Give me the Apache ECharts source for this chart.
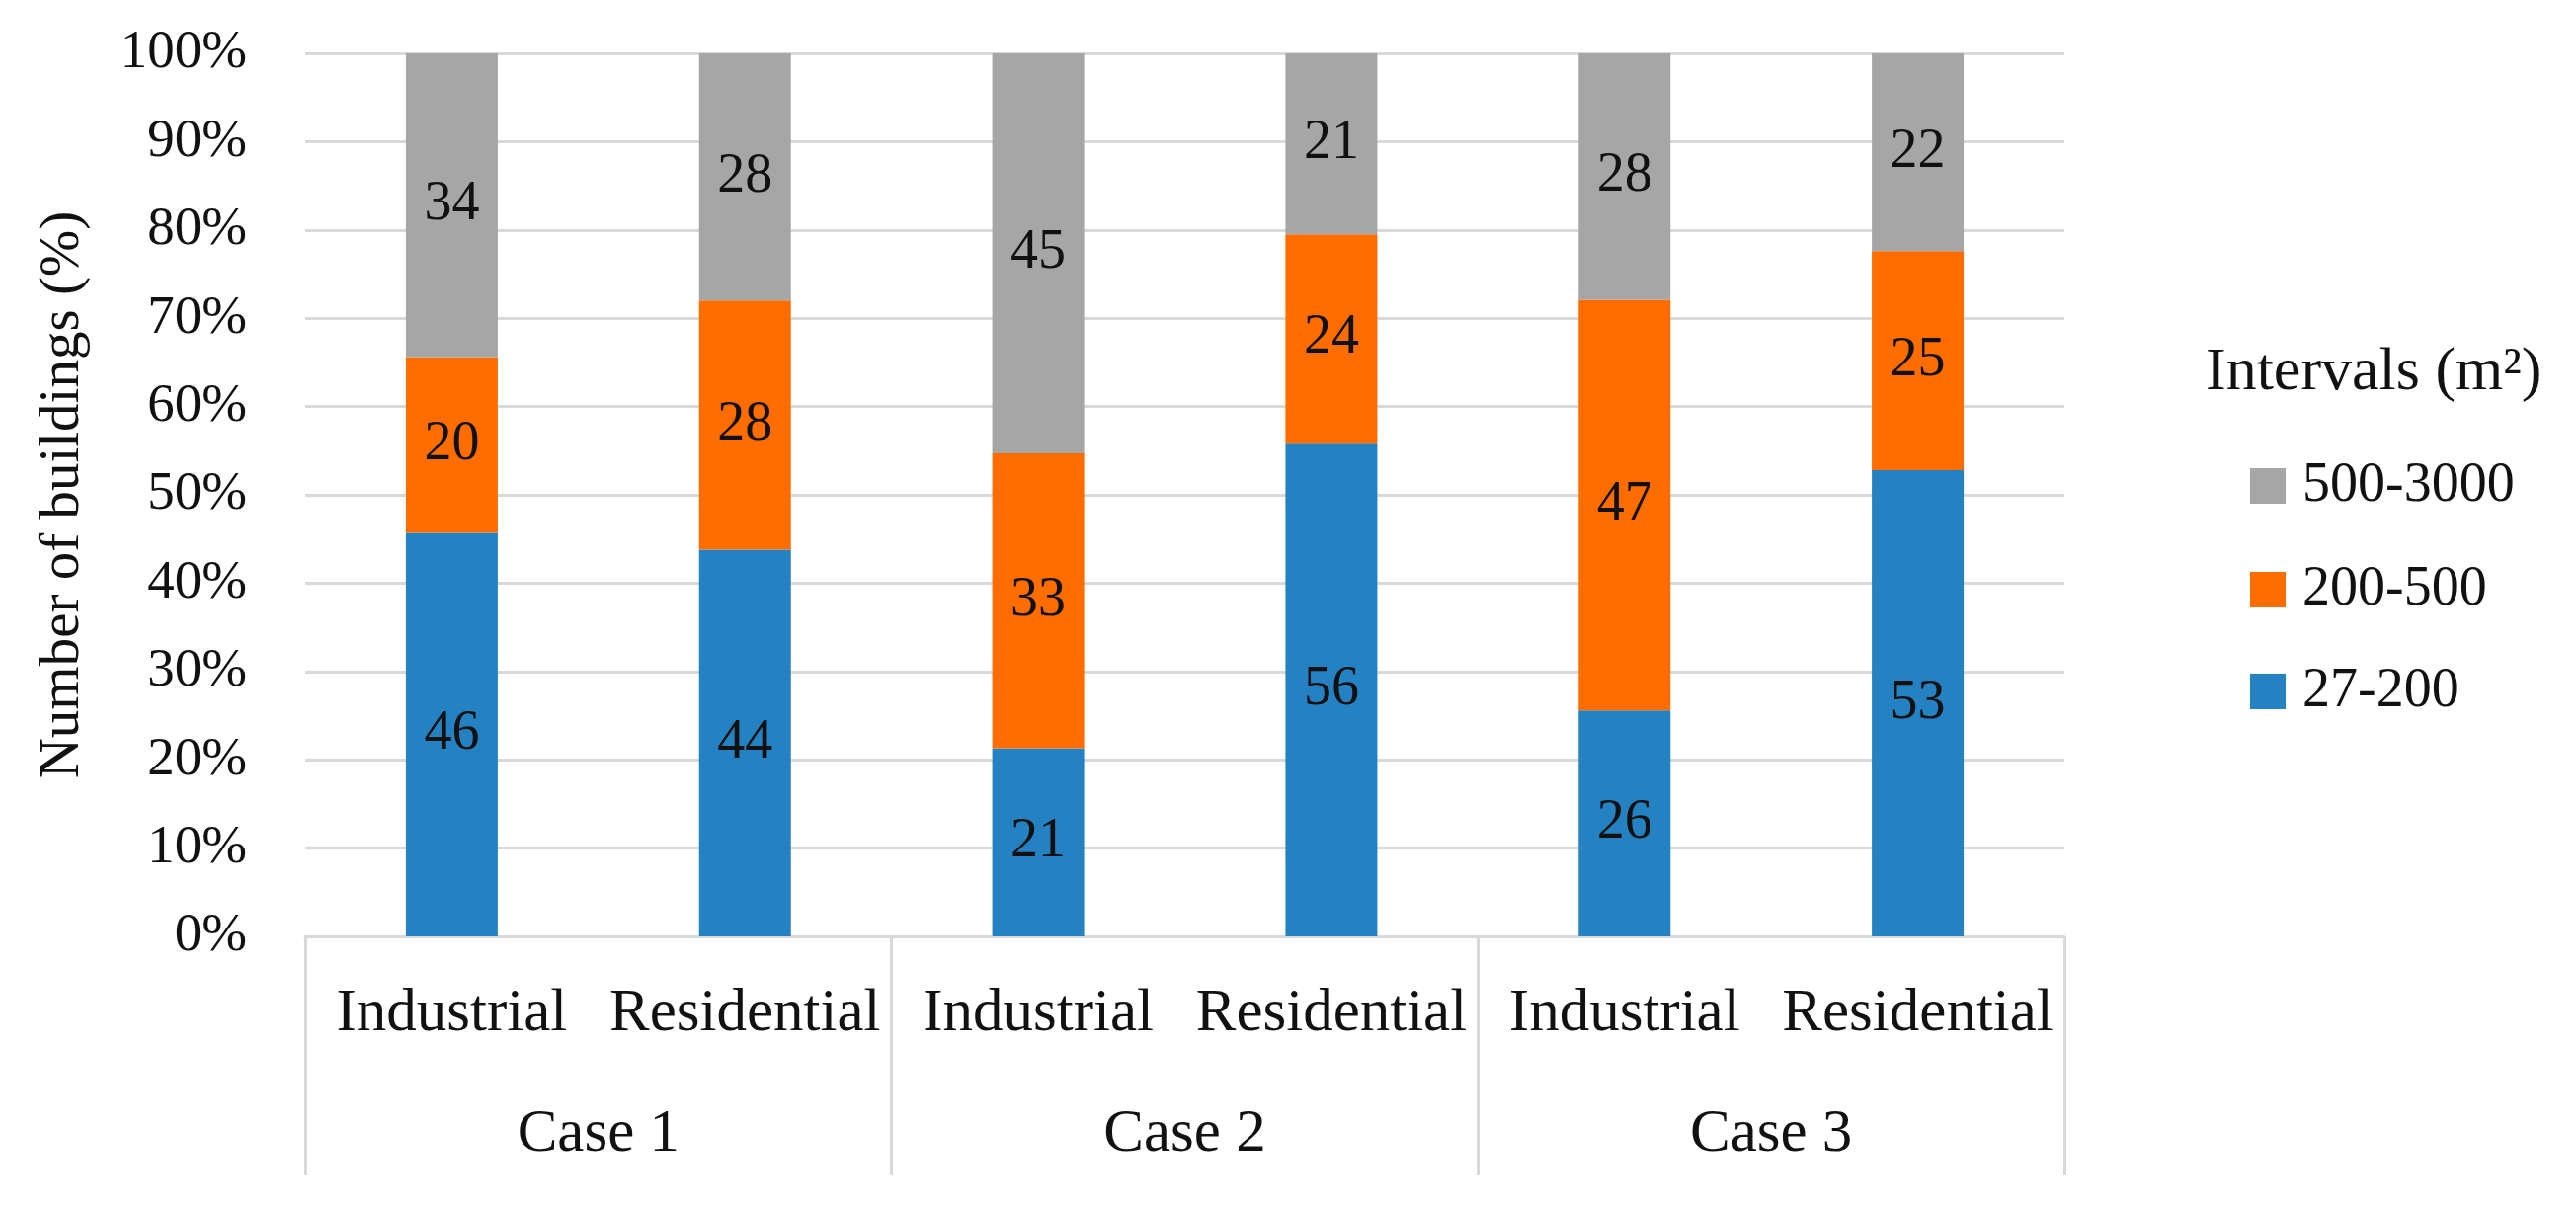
<!DOCTYPE html>
<html>
<head>
<meta charset="utf-8">
<script src="https://cdn.jsdelivr.net/npm/echarts@6/dist/echarts.min.js"></script>
<style>
html,body{margin:0;padding:0;background:#fff;}
#chart{width:2608px;height:1226px;}
</style>
</head>
<body>
<div id="chart"></div>
<script>
// Data
const categories = ['Industrial', 'Residential', 'Industrial', 'Residential', 'Industrial', 'Residential'];
const groups = ['Case 1', 'Case 2', 'Case 3'];
const seriesNames = ['27-200', '200-500', '500-3000'];
const values27_200 = [45.7, 43.8, 21.3, 55.9, 25.6, 52.8];
const values200_500 = [19.9, 28.2, 33.4, 23.6, 46.5, 24.8];
const values500_3000 = [34.4, 28.0, 45.3, 20.5, 27.9, 22.4];
const yTicks = [0, 100, 10];
const legendTitle = 'Intervals (m²)';
const yName = 'Number of buildings (%)';

const FONT = 'Liberation Serif';
const TXT = '#111';
const GRID = '#d9d9d9';
const colors = ['#2481C2', '#FF6D00', '#A6A6A6'];
const seriesData = [values27_200, values200_500, values500_3000];

const chart = echarts.init(document.getElementById('chart'));

const legendCenters = { '500-3000': 492, '200-500': 597, '27-200': 700 };
const legends = ['500-3000', '200-500', '27-200'].map(name => ({
  data: [name],
  left: 2278,
  top: legendCenters[name] - 30,
  orient: 'vertical',
  padding: 0,
  itemWidth: 36,
  itemHeight: 36,
  icon: 'rect',
  selectedMode: false,
  textStyle: { fontFamily: FONT, fontSize: 56, lineHeight: 60, color: TXT, padding: [0, 0, 0, 12] }
}));

const option = {
  animation: false,
  backgroundColor: '#fff',
  textStyle: { fontFamily: FONT },
  grid: { left: 309, right: 518, top: 54, bottom: 278, containLabel: false },
  legend: legends,
  graphic: [
    {
      type: 'text',
      x: 2233,
      y: 378,
      style: {
        text: legendTitle,
        fontFamily: FONT,
        fontSize: 62,
        fill: TXT,
        verticalAlign: 'middle',
        align: 'left'
      }
    },
    {
      type: 'text',
      x: 64,
      y: 501,
      rotation: Math.PI / 2,
      style: {
        text: yName,
        fontFamily: FONT,
        fontSize: 57,
        fill: TXT,
        verticalAlign: 'middle',
        align: 'center'
      }
    }
  ],
  xAxis: [
    {
      type: 'category',
      data: categories,
      position: 'bottom',
      axisLine: { show: true, lineStyle: { color: GRID, width: 3 } },
      axisTick: { show: false },
      axisLabel: { fontFamily: FONT, fontSize: 61, lineHeight: 62, color: TXT, margin: 48, interval: 0 },
      splitLine: { show: false }
    },
    {
      type: 'category',
      data: groups,
      position: 'bottom',
      offset: 0,
      axisLine: { show: false },
      axisTick: { show: true, length: 242, alignWithLabel: false, interval: 0, lineStyle: { color: GRID, width: 3 } },
      axisLabel: { fontFamily: FONT, fontSize: 61, lineHeight: 62, color: TXT, margin: 170, interval: 0 },
      splitLine: { show: false }
    }
  ],
  yAxis: {
    type: 'value',
    min: yTicks[0],
    max: yTicks[1],
    interval: yTicks[2],
    axisLine: { show: false },
    axisTick: { show: false },
    axisLabel: { formatter: '{value}%', fontFamily: FONT, fontSize: 55, color: TXT, margin: 59 },
    splitLine: { show: true, lineStyle: { color: GRID, width: 3 } }
  },
  series: seriesNames.map((name, i) => ({
    name: name,
    type: 'bar',
    stack: 'total',
    xAxisIndex: 0,
    barWidth: 93,
    data: seriesData[i],
    itemStyle: { color: colors[i] },
    label: {
      show: true,
      position: 'inside',
      fontFamily: FONT,
      fontSize: 56,
      color: TXT,
      formatter: p => String(Math.round(p.value))
    }
  }))
};

chart.setOption(option);
</script>
</body>
</html>
